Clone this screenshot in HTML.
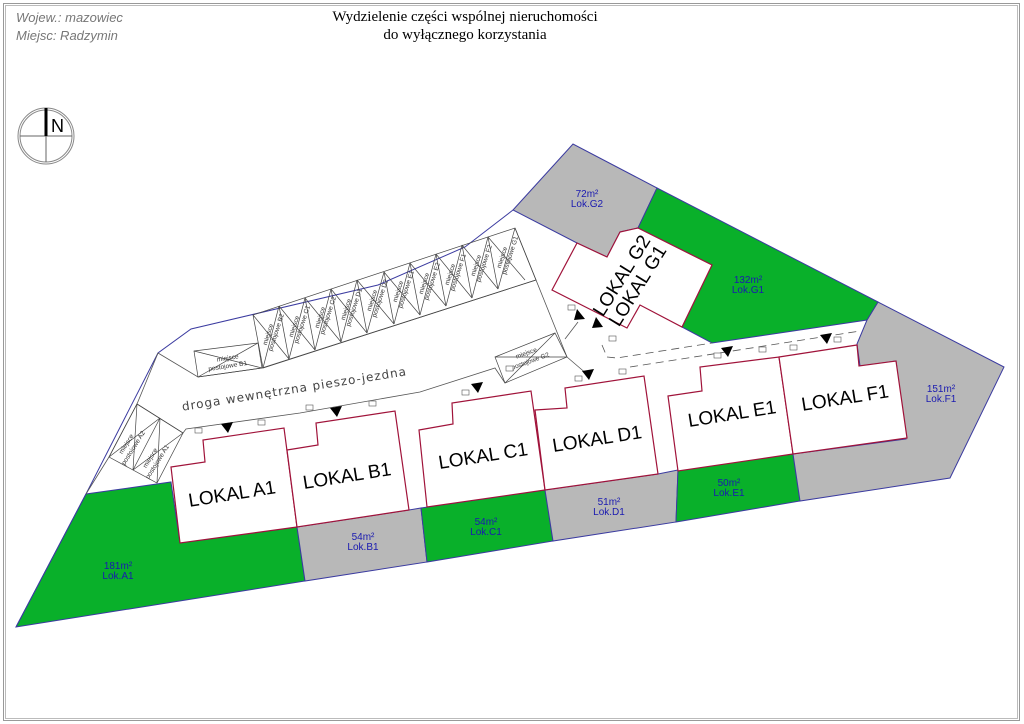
<!DOCTYPE html>
<html><head><meta charset="utf-8"><style>
html,body{margin:0;padding:0;background:#fff;}
svg{display:block;}
</style></head><body>
<svg width="1024" height="724" viewBox="0 0 1024 724" xmlns="http://www.w3.org/2000/svg">
<rect x="0" y="0" width="1024" height="724" fill="#fff"/>
<rect x="3.5" y="3.5" width="1016" height="717" fill="none" stroke="#999" stroke-width="1"/>
<rect x="5.5" y="5.5" width="1012" height="713" fill="none" stroke="#bbb" stroke-width="1"/>

<text x="16" y="22" font-family="Liberation Sans, sans-serif" font-style="italic" font-size="13" fill="#777">Wojew.:  mazowiec</text>
<text x="16" y="40" font-family="Liberation Sans, sans-serif" font-style="italic" font-size="13" fill="#777">Miejsc:  Radzymin</text>
<text x="465" y="21" text-anchor="middle" font-family="Liberation Serif, serif" font-size="15" fill="#000">Wydzielenie części wspólnej nieruchomości</text>
<text x="465" y="39" text-anchor="middle" font-family="Liberation Serif, serif" font-size="15" fill="#000">do wyłącznego korzystania</text>

<!-- compass -->
<circle cx="46" cy="136" r="28" fill="none" stroke="#888" stroke-width="1"/>
<circle cx="46" cy="136" r="26" fill="none" stroke="#888" stroke-width="1"/>
<line x1="20" y1="136" x2="72" y2="136" stroke="#666"/>
<line x1="46" y1="136" x2="46" y2="162" stroke="#666"/>
<line x1="46" y1="108" x2="46" y2="136" stroke="#000" stroke-width="3"/>
<text x="51" y="132" font-family="Liberation Sans, sans-serif" font-size="18" fill="#000">N</text>

<!-- site areas -->
<g stroke="#3b3ba0" stroke-width="1">
<polygon points="16,627 86,494 171,482 180,543 297,527 305,581" fill="#09b02a"/>
<polygon points="297,527 409,510 421,508 427,562 305,581" fill="#b8b8b8"/>
<polygon points="421,508 545,490 553,541 427,562" fill="#09b02a"/>
<polygon points="545,490 658,474 678,470 676,522 553,541" fill="#b8b8b8"/>
<polygon points="678,470 793,454 800,501 676,522" fill="#09b02a"/>
<polygon points="793,454 906,439 896,361 860,366 857,344 867,320 878,302 1004,367 950,478 800,501" fill="#b8b8b8"/>
<polygon points="513,210 573,144 657,188 638,228 620,232 607,257 577,243" fill="#b8b8b8"/>
<polygon points="657,188 878,302 867,320 712,343 682,327 712,265 638,228" fill="#09b02a"/>
</g>
<polyline points="16,627 86,494 158,353 191,329 378,285 465,247 513,210" fill="none" stroke="#3b3ba0" stroke-width="1"/>

<!-- road lines -->
<g fill="none" stroke="#555" stroke-width="0.8">
<polyline points="158,353 198,377 262,368 536,280 567,357"/>
<polyline points="86,494 109,457 137,404 183,433 186,429 300,413 420,392 495,368 505,383"/>
<polyline points="137,404 158,353"/>
<polyline points="567,357 588,375"/>
<polyline points="515,228 536,280"/>
<polyline points="565,339 578,322"/>
</g>
<g fill="none" stroke="#555" stroke-width="0.8" stroke-dasharray="8,5">
<polyline points="602,345 607,357 617,358 712,343"/>
<polyline points="630,367 860,331"/>
</g>

<!-- parking strip -->
<g fill="none" stroke="#444" stroke-width="0.7">
<polygon points="253,315 515,228 536,280 263,368"/>
<line x1="279" y1="306" x2="289" y2="359"/>
<line x1="305" y1="298" x2="315" y2="350"/>
<line x1="331" y1="289" x2="341" y2="342"/>
<line x1="357" y1="280" x2="367" y2="333"/>
<line x1="384" y1="272" x2="394" y2="324"/>
<line x1="410" y1="263" x2="420" y2="315"/>
<line x1="436" y1="254" x2="446" y2="306"/>
<line x1="462" y1="245" x2="472" y2="298"/>
<line x1="488" y1="237" x2="498" y2="289"/>
<path d="M253,315 L289,359 M279,306 L315,350 M305,298 L341,342 M331,289 L367,333 M357,280 L394,324 M384,272 L420,315 M410,263 L446,306 M436,254 L472,298 M462,245 L498,289 M488,237 L525,280"/>
<path d="M279,306 L263,368 M305,298 L289,359 M331,289 L315,350 M357,280 L341,342 M384,272 L367,333 M410,263 L394,324 M436,254 L420,315 M462,245 L446,306 M488,237 L472,298 M515,228 L498,289"/>
<polygon points="194,351 258,343 262,368 198,377"/>
<path d="M194,351 L262,368 M258,343 L198,377"/>
<polygon points="495,357 555,333 567,357 505,383"/>
<path d="M495,357 L567,357 M555,333 L505,383"/>
<polygon points="109,457 137,404 183,433 157,483"/>
<path d="M160,418 L133,470 M137,404 L133,470 M160,418 L157,483 M109,457 L160,418 M133,470 L183,433"/>
</g>
<g font-family="Liberation Sans, sans-serif" font-size="6.5" fill="#333" text-anchor="middle">
<text transform="translate(228,360) rotate(-9)">miejsce</text>
<text transform="translate(228,368) rotate(-9)">postojowe B1</text>
<text transform="translate(527,355) rotate(-20)">miejsce</text>
<text transform="translate(531,363) rotate(-20)">postojowe G2</text>
<text transform="translate(128,445) rotate(-58)">miejsce</text>
<text transform="translate(135,449) rotate(-58)">postojowe A2</text>
<text transform="translate(152,459) rotate(-58)">miejsce</text>
<text transform="translate(159,463) rotate(-58)">postojowe A1</text>
<g>
<text transform="translate(270,335) rotate(-72)">miejsce</text><text transform="translate(278,333) rotate(-72)">postojowe B2</text>
<text transform="translate(296,327) rotate(-72)">miejsce</text><text transform="translate(304,325) rotate(-72)">postojowe C1</text>
<text transform="translate(322,318) rotate(-72)">miejsce</text><text transform="translate(330,316) rotate(-72)">postojowe C2</text>
<text transform="translate(348,310) rotate(-72)">miejsce</text><text transform="translate(356,308) rotate(-72)">postojowe D1</text>
<text transform="translate(374,301) rotate(-72)">miejsce</text><text transform="translate(382,299) rotate(-72)">postojowe D2</text>
<text transform="translate(400,292) rotate(-72)">miejsce</text><text transform="translate(408,290) rotate(-72)">postojowe E1</text>
<text transform="translate(426,284) rotate(-72)">miejsce</text><text transform="translate(434,282) rotate(-72)">postojowe E2</text>
<text transform="translate(452,275) rotate(-72)">miejsce</text><text transform="translate(460,273) rotate(-72)">postojowe F1</text>
<text transform="translate(478,266) rotate(-72)">miejsce</text><text transform="translate(486,264) rotate(-72)">postojowe F2</text>
<text transform="translate(504,258) rotate(-72)">miejsce</text><text transform="translate(512,256) rotate(-72)">postojowe G1</text>
</g>
</g>

<text transform="translate(295,393) rotate(-9)" text-anchor="middle" font-family="DejaVu Sans, sans-serif" font-size="12" fill="#444" letter-spacing="1">droga wewnętrzna pieszo-jezdna</text>

<!-- buildings -->
<g fill="#fff" stroke="#a0133a" stroke-width="1.2">
<polygon points="171,467 205,462 203,440 284,428 297,527 180,543"/>
<polygon points="287,450 318,445 316,423 395,411 409,510 297,527"/>
<polygon points="419,430 453,424 452,403 531,391 545,490 427,507"/>
<polygon points="535,410 567,408 565,388 644,376 658,474 545,490"/>
<polygon points="668,396 702,391 700,367 779,357 793,454 678,471"/>
<polygon points="779,357 857,345 859,366 896,361 907,438 793,454"/>
<polygon points="552,290 577,243 607,257 620,232 638,228 712,265 682,327 640,305 627,328"/>
</g>
<g font-family="Liberation Sans, sans-serif" font-size="19" fill="#000" text-anchor="middle">
<text transform="translate(233,500) rotate(-9)">LOKAL A1</text>
<text transform="translate(348,482) rotate(-9)">LOKAL B1</text>
<text transform="translate(484,462) rotate(-9)">LOKAL C1</text>
<text transform="translate(598,445) rotate(-9)">LOKAL D1</text>
<text transform="translate(733,420) rotate(-9)">LOKAL E1</text>
<text transform="translate(846,404) rotate(-9)">LOKAL F1</text>
<text transform="translate(627,279) rotate(-58)">LOKAL G2</text>
<text transform="translate(643,289) rotate(-58)">LOKAL G1</text>
</g>

<g font-family="Liberation Sans, sans-serif" font-size="10" fill="#1a1ab0" text-anchor="middle">
<text x="118" y="569">181m²</text><text x="118" y="579">Lok.A1</text>
<text x="363" y="540">54m²</text><text x="363" y="550">Lok.B1</text>
<text x="486" y="525">54m²</text><text x="486" y="535">Lok.C1</text>
<text x="609" y="505">51m²</text><text x="609" y="515">Lok.D1</text>
<text x="729" y="486">50m²</text><text x="729" y="496">Lok.E1</text>
<text x="941" y="392">151m²</text><text x="941" y="402">Lok.F1</text>
<text x="587" y="197">72m²</text><text x="587" y="207">Lok.G2</text>
<text x="748" y="283">132m²</text><text x="748" y="293">Lok.G1</text>
</g>

<!-- entry triangles -->
<g fill="#000">
<polygon points="221,424 233,422 228,433"/>
<polygon points="330,408 342,406 337,417"/>
<polygon points="471,384 483,382 478,393"/>
<polygon points="582,371 594,369 589,380"/>
<polygon points="721,348 733,346 728,357"/>
<polygon points="820,335 832,333 827,344"/>
<polygon points="577,309 585,319 574,320"/>
<polygon points="596,317 603,327 592,328"/>
</g>
<!-- small boxes -->
<g fill="#fff" stroke="#555" stroke-width="0.6">
<rect x="195" y="428" width="7" height="5"/><rect x="258" y="420" width="7" height="5"/>
<rect x="306" y="405" width="7" height="5"/><rect x="369" y="401" width="7" height="5"/>
<rect x="462" y="390" width="7" height="5"/><rect x="506" y="366" width="7" height="5"/>
<rect x="575" y="376" width="7" height="5"/><rect x="619" y="369" width="7" height="5"/>
<rect x="714" y="353" width="7" height="5"/><rect x="759" y="347" width="7" height="5"/>
<rect x="790" y="345" width="7" height="5"/><rect x="834" y="337" width="7" height="5"/>
<rect x="568" y="305" width="7" height="5"/><rect x="609" y="336" width="7" height="5"/>
</g>
</svg>
</body></html>
